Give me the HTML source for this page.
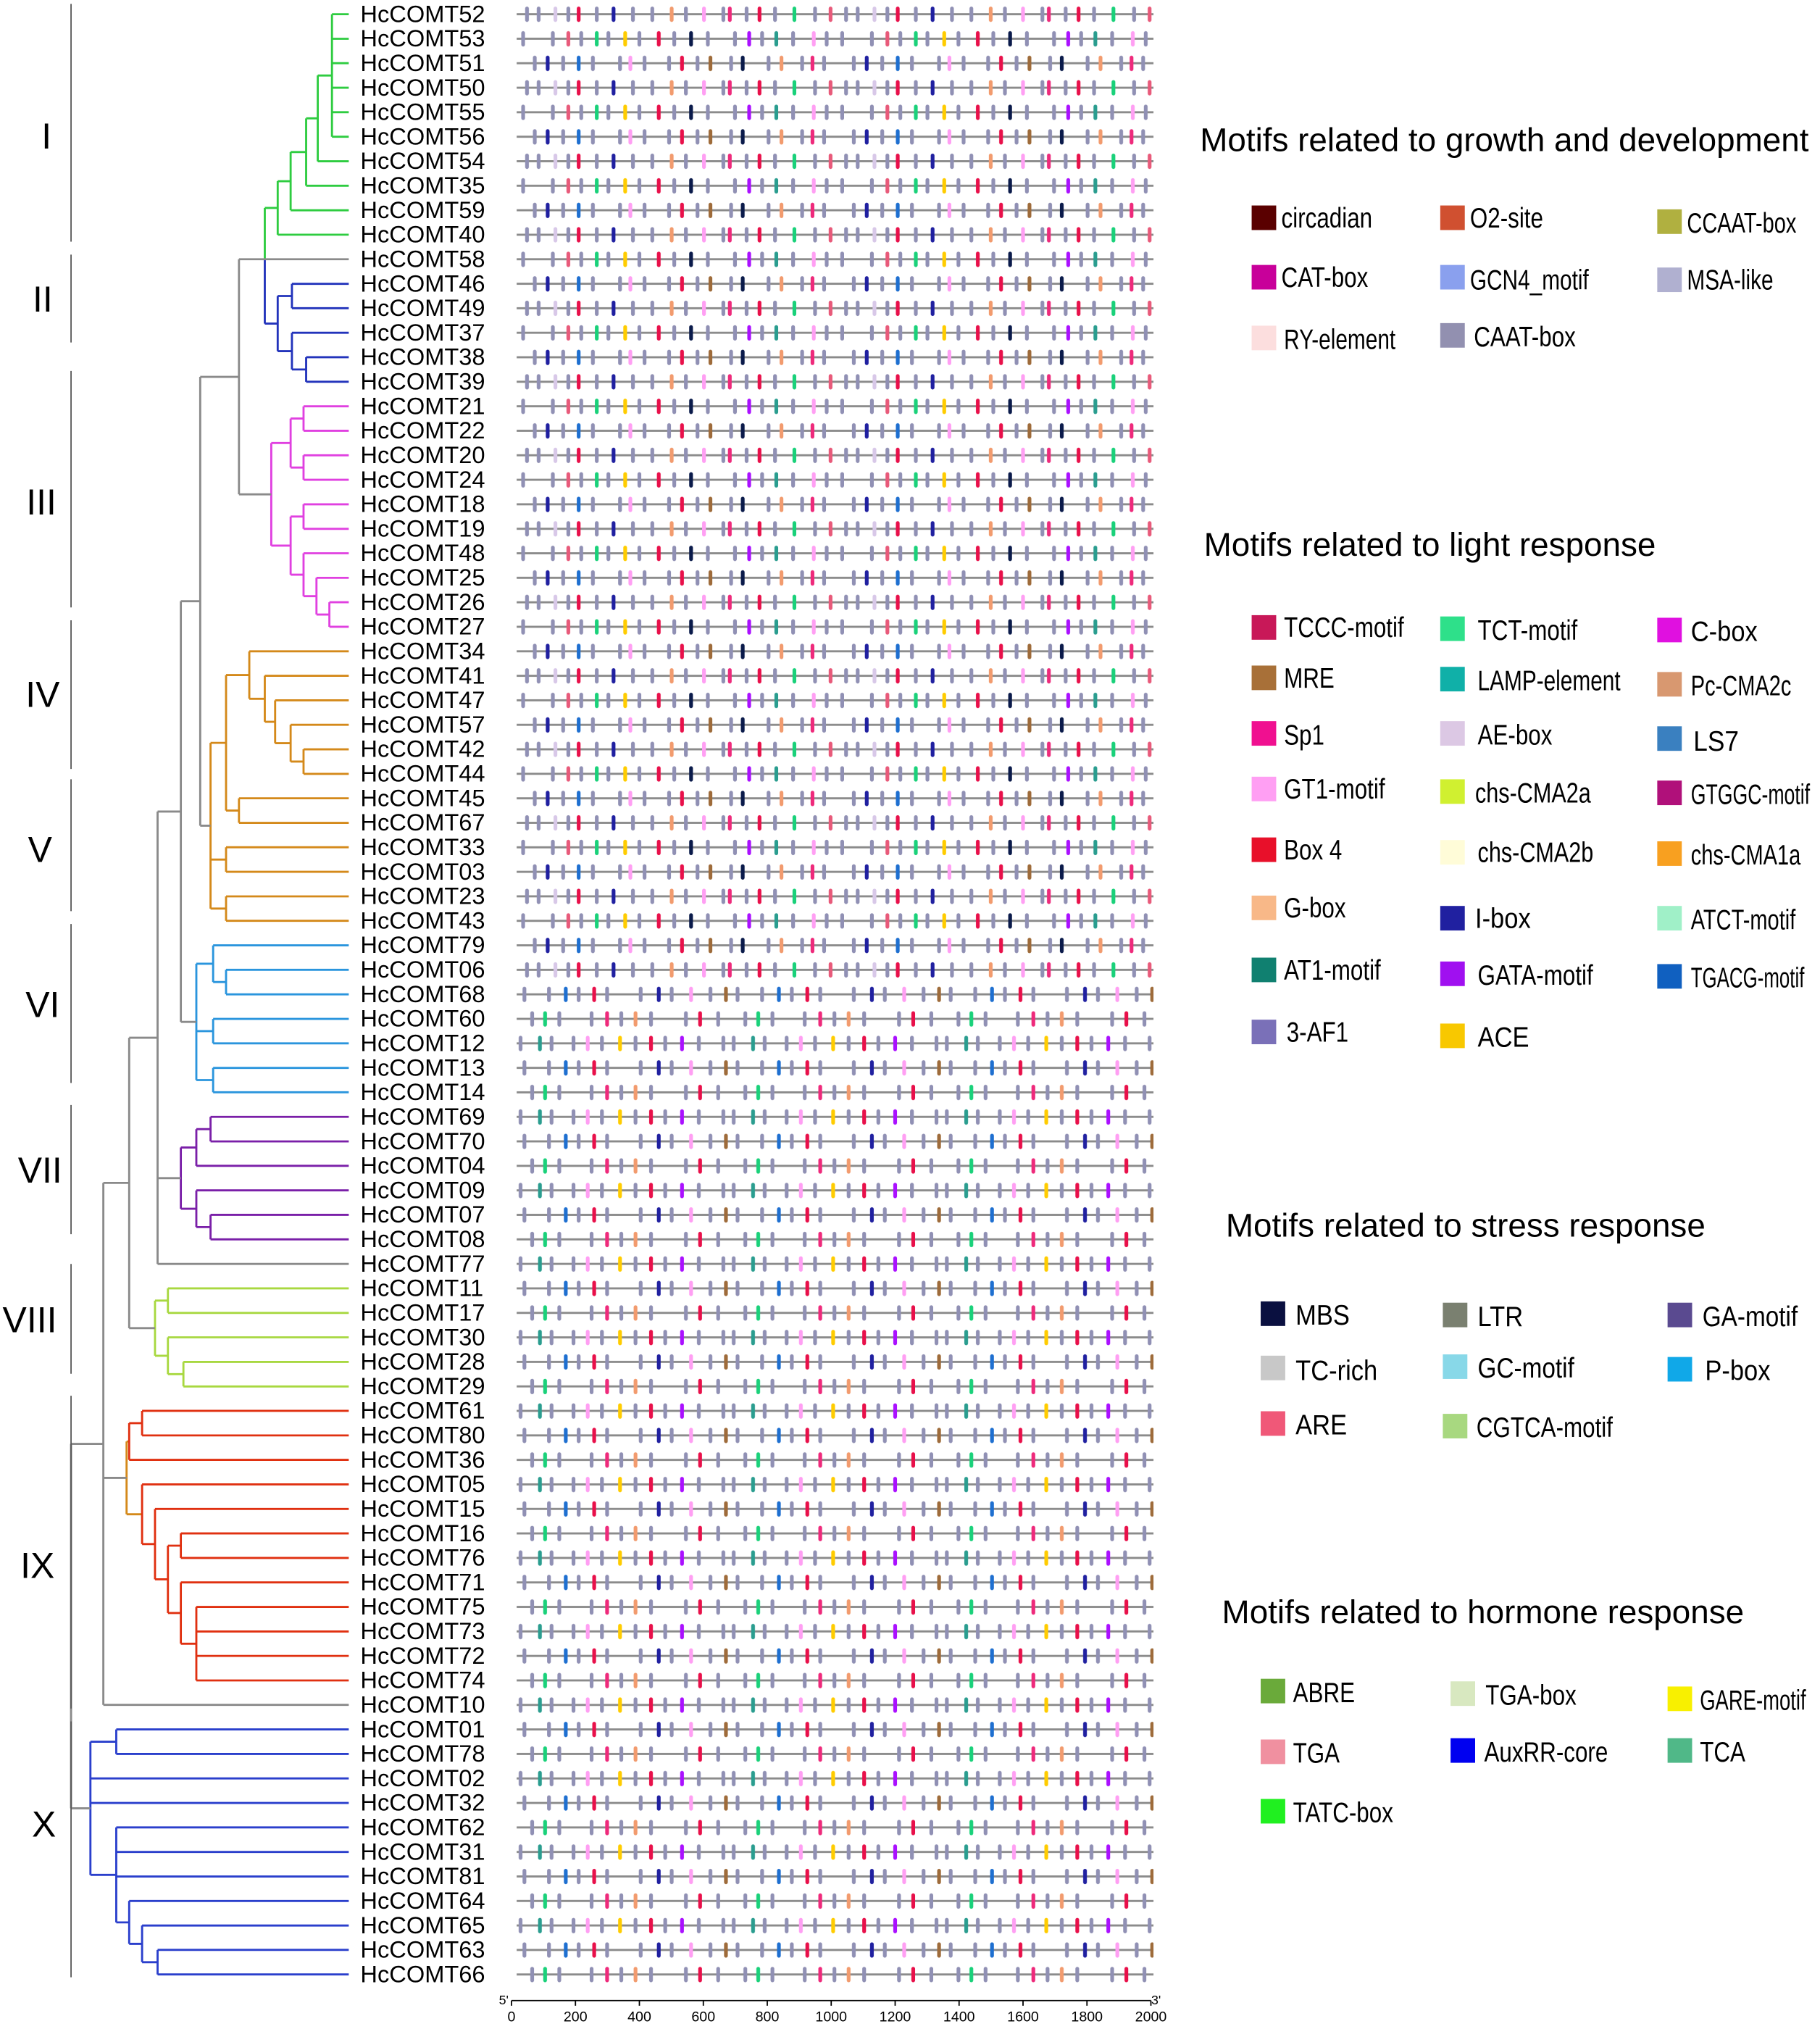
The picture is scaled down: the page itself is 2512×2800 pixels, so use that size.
<!DOCTYPE html>
<html><head><meta charset="utf-8"><style>
html,body{margin:0;padding:0;background:#fff}
svg{display:block}
text{font-family:"Liberation Sans",sans-serif;fill:#000}
</style></head><body>
<svg id="fig" xmlns="http://www.w3.org/2000/svg" width="2512" height="2800" viewBox="0 0 1409 1570" preserveAspectRatio="none">
<defs>
<pattern id="trackLine" x="0" y="1.52" width="493" height="18.96" patternUnits="userSpaceOnUse">
<rect x="0" y="8.68" width="493" height="1.6" fill="#8a8a8a"/>
</pattern>
<pattern id="motifA" x="400" y="1.52" width="247" height="56.88" patternUnits="userSpaceOnUse">
<g stroke-width="2.9" stroke-linecap="round" fill="none">
<path stroke="#9090b4" d="M8 5v9M17 5v9M40 5v9M62 5v9M90 5v9M105 5v9M131 5v9M160 5v9M178 5v9M200 5v9M231 5v9M5 24v9M28 24v9M50 24v9M71 24v9M95 24v9M122 24v9M148 24v9M169 24v9M190 24v9M214 24v9M240 24v9M14 43v9M36 43v9M59 43v9M80 43v9M99 43v9M118 43v9M140 43v9M166 43v9M195 43v9M221 43v9M238 43v9"/>
<path stroke="#e8104a" d="M48 5v9M188 5v9M110 24v9M128 43v9"/>
<path stroke="#f29b6e" d="M120 5v9M205 43v9"/>
<path stroke="#1ad17a" d="M62 24v9M215 5v9"/>
<path stroke="#2020a0" d="M75 5v9M24 43v9"/>
<path stroke="#aa10ff" d="M180 24v9"/>
<path stroke="#ff9ff3" d="M145 5v9M230 24v9M88 43v9"/>
<path stroke="#0a1a4a" d="M135 24v9M175 43v9"/>
<path stroke="#1e6fd0" d="M48 43v9"/>
<path stroke="#e85a7a" d="M40 24v9M243 5v9"/>
<path stroke="#9e6b3a" d="M150 43v9"/>
<path stroke="#2a9d8f" d="M201 24v9"/>
<path stroke="#d8c8e8" d="M30 5v9"/>
<path stroke="#ffcc00" d="M84 24v9"/>
<path stroke="#ee2a7b" d="M165 5v9M229 43v9"/>
</g>
</pattern>
<pattern id="motifB" x="400" y="759.92" width="165" height="56.88" patternUnits="userSpaceOnUse">
<g stroke-width="2.9" stroke-linecap="round" fill="none">
<path stroke="#9090b4" d="M6 5v9M25 5v9M48 5v9M70 5v9M96 5v9M120 5v9M150 5v9M12 24v9M33 24v9M58 24v9M81 24v9M104 24v9M131 24v9M156 24v9M3 43v9M27 43v9M44 43v9M66 43v9M92 43v9M115 43v9M141 43v9M160 43v9"/>
<path stroke="#e8104a" d="M60 5v9M142 24v9M104 43v9"/>
<path stroke="#ff9ff3" d="M135 5v9M55 43v9"/>
<path stroke="#1ad17a" d="M22 24v9"/>
<path stroke="#2020a0" d="M110 5v9"/>
<path stroke="#aa10ff" d="M128 43v9"/>
<path stroke="#f29b6e" d="M92 24v9"/>
<path stroke="#1e6fd0" d="M38 5v9"/>
<path stroke="#ee2a7b" d="M70 24v9"/>
<path stroke="#2a9d8f" d="M18 43v9"/>
<path stroke="#9e6b3a" d="M162 5v9"/>
<path stroke="#ffcc00" d="M80 43v9"/>
</g>
</pattern>
</defs>

<g id="treeG" fill="none" stroke-width="1.6">
<path stroke="#2ecc40" d="M257 11H270M257 30H270M257 48.9H270M257 67.9H270M257 86.8H270M257 105.8H270M257 11V105.8M246 58.4H257M246 124.8H270M246 58.4V124.8M237 91.6H246M237 143.7H270M237 91.6V143.7M225 117.65H237M225 162.7H270M225 117.65V162.7M215 140.2H225M215 181.6H270M215 140.2V181.6M205 160.9H215M205 160.9V200.6"/>
<path stroke="#2233bb" d="M226 219.6H270M226 238.5H270M226 219.6V238.5M237 276.4H270M237 295.4H270M237 276.4V295.4M226 257.5H270M226 285.9H237M226 257.5V285.9M215 229.05H226M215 271.7H226M215 229.05V271.7M205 250.4H215M205 200.6V250.4"/>
<path stroke="#e040e0" d="M235 314.4H270M235 333.3H270M235 314.4V333.3M235 352.3H270M235 371.2H270M235 352.3V371.2M225 323.85H235M225 361.75H235M225 323.85V361.75M235 390.2H270M235 409.2H270M235 390.2V409.2M255 466H270M255 485H270M255 466V485M245 447.1H270M245 475.5H255M245 447.1V475.5M235 428.1H270M235 461.3H245M235 428.1V461.3M225 399.7H235M225 444.7H235M225 399.7V444.7M210 342.8H225M210 422.2H225M210 342.8V422.2"/>
<path stroke="#d4891a" d="M235 579.8H270M235 598.8H270M235 579.8V598.8M225 560.8H270M225 589.3H235M225 560.8V589.3M213 541.9H270M213 575.05H225M213 541.9V575.05M205 522.9H270M205 558.5H213M205 522.9V558.5M193 504H270M193 540.7H205M193 504V540.7M185 617.7H270M185 636.7H270M185 617.7V636.7M175 522.35H193M175 627.2H185M175 522.35V627.2M175 655.6H270M175 674.6H270M175 655.6V674.6M175 693.6H270M175 712.5H270M175 693.6V712.5M163 574.8H175M163 665.1H175M163 703.05H175M163 574.8V703.05M98 1115.4H100M98 1171.7H110M98 1115.4V1171.7"/>
<path stroke="#2a95dd" d="M175 750.4H270M175 769.4H270M175 750.4V769.4M165 731.5H270M165 759.9H175M165 731.5V759.9M165 788.4H270M165 807.3H270M165 788.4V807.3M165 826.3H270M165 845.2H270M165 826.3V845.2M152 745.7H165M152 797.85H165M152 835.75H165M152 745.7V835.75"/>
<path stroke="#7a1fa8" d="M163 864.2H270M163 883.2H270M163 864.2V883.2M152 873.7H163M152 902.1H270M152 873.7V902.1M163 940H270M163 959H270M163 940V959M152 921.1H270M152 949.5H163M152 921.1V949.5M140 887.9H152M140 935.3H152M140 887.9V935.3"/>
<path stroke="#a8d840" d="M130 996.9H270M130 1015.9H270M130 996.9V1015.9M142 1053.8H270M142 1072.8H270M142 1053.8V1072.8M130 1034.8H270M130 1063.3H142M130 1034.8V1063.3M120 1006.4H130M120 1049.05H130M120 1006.4V1049.05"/>
<path stroke="#e03010" d="M110 1091.7H270M110 1110.7H270M110 1091.7V1110.7M100 1101.2H110M100 1129.6H270M100 1101.2V1129.6M152 1243.4H270M152 1262.4H270M152 1281.3H270M152 1300.3H270M152 1243.4V1300.3M140 1224.4H270M140 1271.85H152M140 1224.4V1271.85M140 1186.5H270M140 1205.5H270M140 1186.5V1205.5M130 1196H140M130 1248.1H140M130 1196V1248.1M120 1167.6H270M120 1222.05H130M120 1167.6V1222.05M110 1148.6H270M110 1194.8H120M110 1148.6V1194.8"/>
<path stroke="#2a3fcc" d="M90 1338.2H270M90 1357.2H270M90 1338.2V1357.2M122 1508.8H270M122 1527.8H270M122 1508.8V1527.8M110 1489.9H270M110 1518.3H122M110 1489.9V1518.3M100 1470.9H270M100 1504.1H110M100 1470.9V1504.1M90 1414H270M90 1433H270M90 1452H270M90 1487.5H100M90 1414V1487.5M70 1347.7H90M70 1376.1H270M70 1395.1H270M70 1450.75H90M70 1347.7V1450.75"/>
<path stroke="#8a8a8a" d="M195 200.6H270M185 200.6H195M185 382.5H210M185 200.6V382.5M155 291.6H185M155 638.9H163M155 291.6V638.9M140 465.2H155M140 790.7H152M140 465.2V790.7M122 627.95H140M122 911.6H140M122 978H270M122 627.95V978M100 802.98H122M100 1027.7H120M100 802.98V1027.7M80 915.3H100M80 1143.55H98M80 1319.2H270M80 915.3V1319.2M55 1117.25H80M55 1399.2H70M55 1117.25V1399.2"/>
</g>

<g id="tracksG">
<rect x="400" y="1.52" width="493" height="1535.76" fill="url(#trackLine)"/>
<rect x="400" y="1.52" width="493" height="758.4" fill="url(#motifA)"/>
<rect x="400" y="759.92" width="493" height="777.36" fill="url(#motifB)"/>
</g>

<text id="labelsG" font-size="18.3" x="279" y="-1.96"><tspan x="279" dy="18.96">HcCOMT52</tspan><tspan x="279" dy="18.96">HcCOMT53</tspan><tspan x="279" dy="18.96">HcCOMT51</tspan><tspan x="279" dy="18.96">HcCOMT50</tspan><tspan x="279" dy="18.96">HcCOMT55</tspan><tspan x="279" dy="18.96">HcCOMT56</tspan><tspan x="279" dy="18.96">HcCOMT54</tspan><tspan x="279" dy="18.96">HcCOMT35</tspan><tspan x="279" dy="18.96">HcCOMT59</tspan><tspan x="279" dy="18.96">HcCOMT40</tspan><tspan x="279" dy="18.96">HcCOMT58</tspan><tspan x="279" dy="18.96">HcCOMT46</tspan><tspan x="279" dy="18.96">HcCOMT49</tspan><tspan x="279" dy="18.96">HcCOMT37</tspan><tspan x="279" dy="18.96">HcCOMT38</tspan><tspan x="279" dy="18.96">HcCOMT39</tspan><tspan x="279" dy="18.96">HcCOMT21</tspan><tspan x="279" dy="18.96">HcCOMT22</tspan><tspan x="279" dy="18.96">HcCOMT20</tspan><tspan x="279" dy="18.96">HcCOMT24</tspan><tspan x="279" dy="18.96">HcCOMT18</tspan><tspan x="279" dy="18.96">HcCOMT19</tspan><tspan x="279" dy="18.96">HcCOMT48</tspan><tspan x="279" dy="18.96">HcCOMT25</tspan><tspan x="279" dy="18.96">HcCOMT26</tspan><tspan x="279" dy="18.96">HcCOMT27</tspan><tspan x="279" dy="18.96">HcCOMT34</tspan><tspan x="279" dy="18.96">HcCOMT41</tspan><tspan x="279" dy="18.96">HcCOMT47</tspan><tspan x="279" dy="18.96">HcCOMT57</tspan><tspan x="279" dy="18.96">HcCOMT42</tspan><tspan x="279" dy="18.96">HcCOMT44</tspan><tspan x="279" dy="18.96">HcCOMT45</tspan><tspan x="279" dy="18.96">HcCOMT67</tspan><tspan x="279" dy="18.96">HcCOMT33</tspan><tspan x="279" dy="18.96">HcCOMT03</tspan><tspan x="279" dy="18.96">HcCOMT23</tspan><tspan x="279" dy="18.96">HcCOMT43</tspan><tspan x="279" dy="18.96">HcCOMT79</tspan><tspan x="279" dy="18.96">HcCOMT06</tspan><tspan x="279" dy="18.96">HcCOMT68</tspan><tspan x="279" dy="18.96">HcCOMT60</tspan><tspan x="279" dy="18.96">HcCOMT12</tspan><tspan x="279" dy="18.96">HcCOMT13</tspan><tspan x="279" dy="18.96">HcCOMT14</tspan><tspan x="279" dy="18.96">HcCOMT69</tspan><tspan x="279" dy="18.96">HcCOMT70</tspan><tspan x="279" dy="18.96">HcCOMT04</tspan><tspan x="279" dy="18.96">HcCOMT09</tspan><tspan x="279" dy="18.96">HcCOMT07</tspan><tspan x="279" dy="18.96">HcCOMT08</tspan><tspan x="279" dy="18.96">HcCOMT77</tspan><tspan x="279" dy="18.96">HcCOMT11</tspan><tspan x="279" dy="18.96">HcCOMT17</tspan><tspan x="279" dy="18.96">HcCOMT30</tspan><tspan x="279" dy="18.96">HcCOMT28</tspan><tspan x="279" dy="18.96">HcCOMT29</tspan><tspan x="279" dy="18.96">HcCOMT61</tspan><tspan x="279" dy="18.96">HcCOMT80</tspan><tspan x="279" dy="18.96">HcCOMT36</tspan><tspan x="279" dy="18.96">HcCOMT05</tspan><tspan x="279" dy="18.96">HcCOMT15</tspan><tspan x="279" dy="18.96">HcCOMT16</tspan><tspan x="279" dy="18.96">HcCOMT76</tspan><tspan x="279" dy="18.96">HcCOMT71</tspan><tspan x="279" dy="18.96">HcCOMT75</tspan><tspan x="279" dy="18.96">HcCOMT73</tspan><tspan x="279" dy="18.96">HcCOMT72</tspan><tspan x="279" dy="18.96">HcCOMT74</tspan><tspan x="279" dy="18.96">HcCOMT10</tspan><tspan x="279" dy="18.96">HcCOMT01</tspan><tspan x="279" dy="18.96">HcCOMT78</tspan><tspan x="279" dy="18.96">HcCOMT02</tspan><tspan x="279" dy="18.96">HcCOMT32</tspan><tspan x="279" dy="18.96">HcCOMT62</tspan><tspan x="279" dy="18.96">HcCOMT31</tspan><tspan x="279" dy="18.96">HcCOMT81</tspan><tspan x="279" dy="18.96">HcCOMT64</tspan><tspan x="279" dy="18.96">HcCOMT65</tspan><tspan x="279" dy="18.96">HcCOMT63</tspan><tspan x="279" dy="18.96">HcCOMT66</tspan></text>

<g id="axisG" font-size="11" text-anchor="middle">
<path d="M396 1548H891M396 1548v4M445.5 1548v4M495 1548v4M544.5 1548v4M594 1548v4M643.5 1548v4M693 1548v4M742.5 1548v4M792 1548v4M841.5 1548v4M891 1548v4" stroke="#000" stroke-width="1" fill="none"/>
<text x="396" y="1564">0</text><text x="445.5" y="1564">200</text><text x="495" y="1564">400</text><text x="544.5" y="1564">600</text><text x="594" y="1564">800</text><text x="643.5" y="1564">1000</text><text x="693" y="1564">1200</text><text x="742.5" y="1564">1400</text><text x="792" y="1564">1600</text><text x="841.5" y="1564">1800</text><text x="891" y="1564">2000</text>
<text x="390" y="1551" font-size="10">5'</text>
<text x="895" y="1551" font-size="10">3'</text>
</g>

<g id="cladesG" font-size="28" text-anchor="middle">
<path d="M55 3V187M55 197V265M55 287V470M55 480V595M55 603V705M55 715V838M55 855V955M55 978V1063M55 1080V1322M55 1332V1530" stroke="#555" stroke-width="1" fill="none"/>
<text x="36" y="115">I</text><text x="33" y="241">II</text><text x="32" y="398">III</text><text x="33" y="547">IV</text><text x="31" y="667">V</text><text x="33" y="787">VI</text><text x="31" y="915">VII</text><text x="23" y="1031">VIII</text><text x="29" y="1221">IX</text><text x="34" y="1421">X</text>
</g>

<g id="legendG" font-size="22">
<text x="929" y="117" font-size="25.7">Motifs related to growth and development</text>
<text x="932" y="430" font-size="25.7">Motifs related to light response</text>
<text x="949" y="957" font-size="25.7">Motifs related to stress response</text>
<text x="946" y="1256" font-size="25.7">Motifs related to hormone response</text>

<rect x="969" y="159" width="19" height="19" fill="#5a0000"/><text transform="translate(992,176) scale(0.8,1)">circadian</text>
<rect x="1115" y="159" width="19" height="19" fill="#d05030"/><text transform="translate(1138,176) scale(0.8,1)">O2-site</text>
<rect x="1283" y="162" width="19" height="19" fill="#b0b040"/><text transform="translate(1306,180) scale(0.74,1)">CCAAT-box</text>
<rect x="969" y="205" width="19" height="19" fill="#c8009a"/><text transform="translate(992,222) scale(0.8,1)">CAT-box</text>
<rect x="1115" y="205" width="19" height="19" fill="#8aa0ee"/><text transform="translate(1138,224) scale(0.76,1)">GCN4_motif</text>
<rect x="1283" y="207" width="19" height="19" fill="#b0b0d0"/><text transform="translate(1306,224) scale(0.76,1)">MSA-like</text>
<rect x="969" y="252" width="19" height="19" fill="#fcdede"/><text transform="translate(994,270) scale(0.76,1)">RY-element</text>
<rect x="1115" y="250" width="19" height="19" fill="#9290b0"/><text transform="translate(1141,268) scale(0.8,1)">CAAT-box</text>

<rect x="969" y="476" width="19" height="19" fill="#c81858"/><text transform="translate(994,493) scale(0.8,1)">TCCC-motif</text>
<rect x="1115" y="477" width="19" height="19" fill="#2ee08a"/><text transform="translate(1144,495) scale(0.8,1)">TCT-motif</text>
<rect x="1283" y="478" width="19" height="19" fill="#e010e0"/><text transform="translate(1309,496) scale(0.88,1)">C-box</text>
<rect x="969" y="515" width="19" height="19" fill="#a87038"/><text transform="translate(994,532) scale(0.8,1)">MRE</text>
<rect x="1115" y="516" width="19" height="19" fill="#10b0a8"/><text transform="translate(1144,534) scale(0.76,1)">LAMP-element</text>
<rect x="1283" y="520" width="19" height="19" fill="#d89870"/><text transform="translate(1309,538) scale(0.74,1)">Pc-CMA2c</text>
<rect x="969" y="558" width="19" height="19" fill="#f01090"/><text transform="translate(994,576) scale(0.8,1)">Sp1</text>
<rect x="1115" y="558" width="19" height="19" fill="#dcc8e4"/><text transform="translate(1144,576) scale(0.8,1)">AE-box</text>
<rect x="1283" y="562" width="19" height="19" fill="#3a80c0"/><text transform="translate(1311,581) scale(0.9,1)">LS7</text>
<rect x="969" y="601" width="19" height="19" fill="#ff9ff3"/><text transform="translate(994,618) scale(0.8,1)">GT1-motif</text>
<rect x="1115" y="603" width="19" height="19" fill="#d0f030"/><text transform="translate(1142,621) scale(0.78,1)">chs-CMA2a</text>
<rect x="1283" y="604" width="19" height="19" fill="#b0107a"/><text transform="translate(1309,622) scale(0.68,1)">GTGGC-motif</text>
<rect x="969" y="648" width="19" height="19" fill="#e8102a"/><text transform="translate(994,665) scale(0.8,1)">Box 4</text>
<rect x="1115" y="650" width="19" height="19" fill="#fffcd8"/><text transform="translate(1144,667) scale(0.78,1)">chs-CMA2b</text>
<rect x="1283" y="651" width="19" height="19" fill="#f8a020"/><text transform="translate(1309,669) scale(0.74,1)">chs-CMA1a</text>
<rect x="969" y="693" width="19" height="19" fill="#f8b888"/><text transform="translate(994,710) scale(0.8,1)">G-box</text>
<rect x="1115" y="701" width="19" height="19" fill="#2020a0"/><text transform="translate(1142,718) scale(0.88,1)">I-box</text>
<rect x="1283" y="701" width="19" height="19" fill="#a0f0c8"/><text transform="translate(1309,719) scale(0.74,1)">ATCT-motif</text>
<rect x="969" y="741" width="19" height="19" fill="#108070"/><text transform="translate(994,758) scale(0.8,1)">AT1-motif</text>
<rect x="1115" y="744" width="19" height="19" fill="#a010f0"/><text transform="translate(1144,762) scale(0.8,1)">GATA-motif</text>
<rect x="1283" y="746" width="19" height="19" fill="#1060c0"/><text transform="translate(1309,764) scale(0.66,1)">TGACG-motif</text>
<rect x="969" y="789" width="19" height="19" fill="#7a70b8"/><text transform="translate(996,806) scale(0.8,1)">3-AF1</text>
<rect x="1115" y="792" width="19" height="19" fill="#f8c800"/><text transform="translate(1144,810) scale(0.88,1)">ACE</text>

<rect x="976" y="1007" width="19" height="19" fill="#0a1040"/><text transform="translate(1003,1025) scale(0.88,1)">MBS</text>
<rect x="1117" y="1008" width="19" height="19" fill="#7a8070"/><text transform="translate(1144,1026) scale(0.88,1)">LTR</text>
<rect x="1291" y="1008" width="19" height="19" fill="#5a4a90"/><text transform="translate(1318,1026) scale(0.85,1)">GA-motif</text>
<rect x="976" y="1049" width="19" height="19" fill="#c8c8c8"/><text transform="translate(1003,1068) scale(0.88,1)">TC-rich</text>
<rect x="1117" y="1048" width="19" height="19" fill="#88d8e8"/><text transform="translate(1144,1066) scale(0.85,1)">GC-motif</text>
<rect x="1291" y="1050" width="19" height="19" fill="#10a8e8"/><text transform="translate(1320,1068) scale(0.88,1)">P-box</text>
<rect x="976" y="1092" width="19" height="19" fill="#f05878"/><text transform="translate(1003,1110) scale(0.88,1)">ARE</text>
<rect x="1117" y="1094" width="19" height="19" fill="#a8d880"/><text transform="translate(1143,1112) scale(0.8,1)">CGTCA-motif</text>

<rect x="976" y="1299" width="19" height="19" fill="#6aaa3a"/><text transform="translate(1001,1317) scale(0.8,1)">ABRE</text>
<rect x="1123" y="1301" width="19" height="19" fill="#d8e8c0"/><text transform="translate(1150,1319) scale(0.8,1)">TGA-box</text>
<rect x="1291" y="1305" width="19" height="19" fill="#f8f000"/><text transform="translate(1316,1323) scale(0.7,1)">GARE-motif</text>
<rect x="976" y="1346" width="19" height="19" fill="#f090a0"/><text transform="translate(1001,1364) scale(0.8,1)">TGA</text>
<rect x="1123" y="1345" width="19" height="19" fill="#0000f0"/><text transform="translate(1149,1363) scale(0.8,1)">AuxRR-core</text>
<rect x="1291" y="1345" width="19" height="19" fill="#50b888"/><text transform="translate(1316,1363) scale(0.8,1)">TCA</text>
<rect x="976" y="1392" width="19" height="19" fill="#20f020"/><text transform="translate(1001,1410) scale(0.8,1)">TATC-box</text>
</g>
</svg>
</body></html>
